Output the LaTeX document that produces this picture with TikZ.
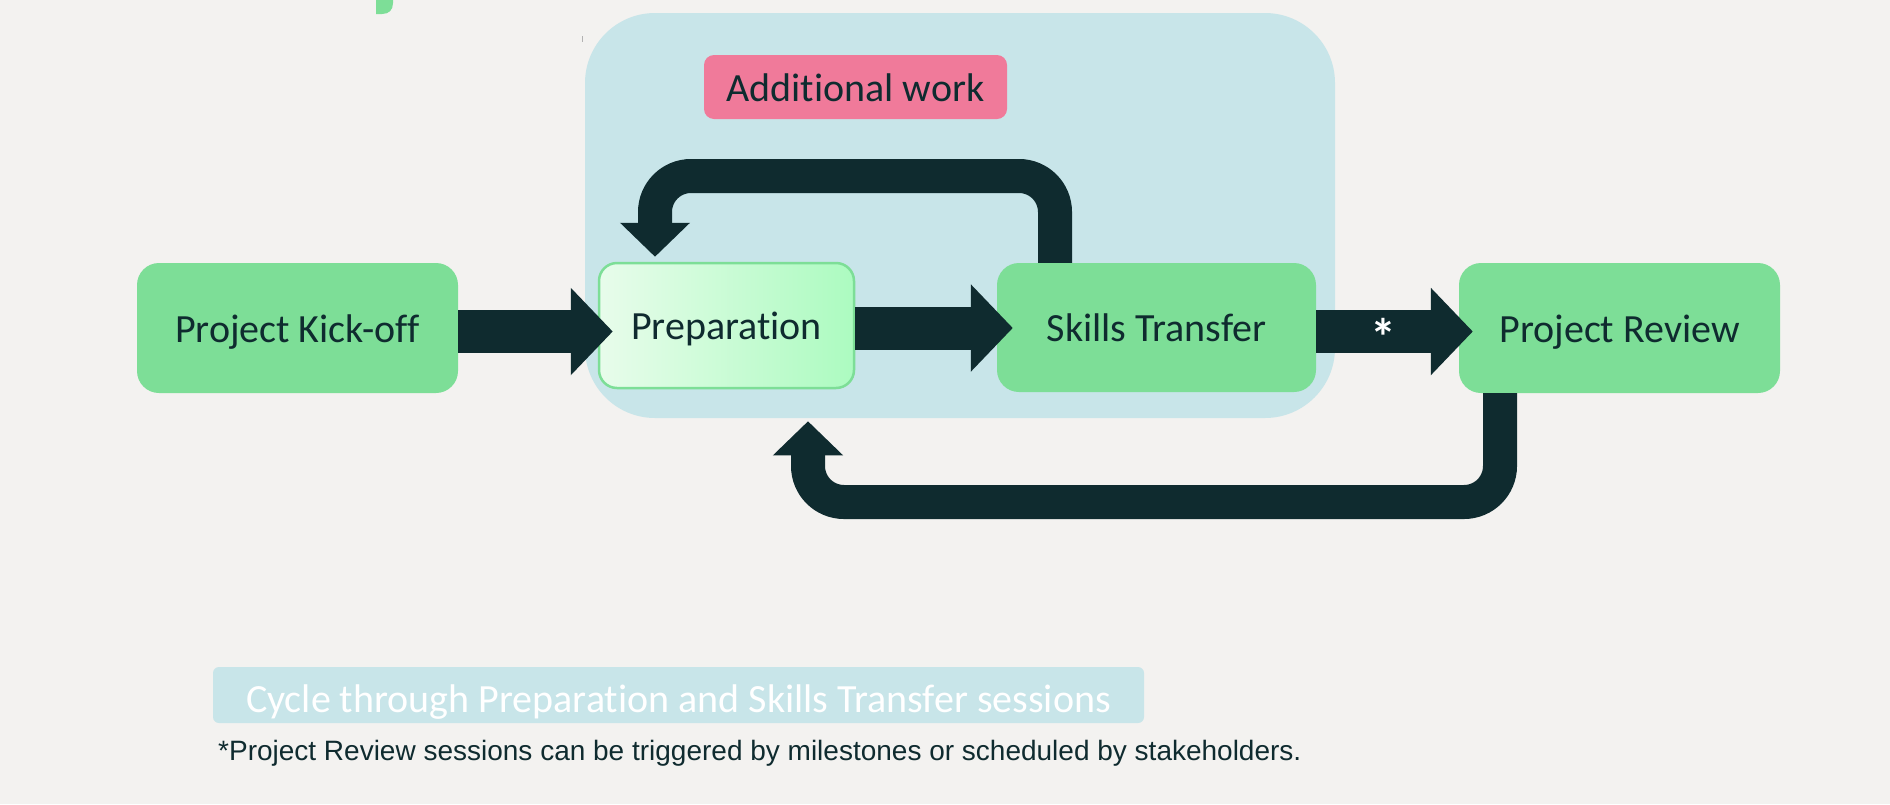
\documentclass[tikz,border=0pt]{standalone}
\usepackage{fontspec}
\setmainfont{Carlito}[Ligatures=NoCommon]
\newfontfamily\arialfont{Liberation Sans}
\usetikzlibrary{arrows.meta,calc}
\definecolor{bgcol}{HTML}{F3F2F0}
\definecolor{regioncol}{HTML}{C8E5E9}
\definecolor{boxgreen}{HTML}{7DDE97}
\definecolor{pinkbox}{HTML}{F07A9A}
\definecolor{darkarrow}{HTML}{0F2B2F}
\definecolor{preplight}{HTML}{E8FCEB}
\definecolor{prepdark}{HTML}{ACFBC0}
\begin{document}
\begin{tikzpicture}[x=1pt,y=-1pt,
  boxtext/.style={font=\fontsize{40}{46}\selectfont, text=darkarrow, text height=28pt, text depth=0pt, inner sep=0pt},
  stagebox/.style={boxtext, fill=boxgreen, rounded corners=22pt, minimum width=321pt, minimum height=130pt},
  blockarrow/.style={draw=darkarrow, line width=43pt, -{Triangle[length=42pt,width=85pt]}},
  looparrow/.style={draw=darkarrow, line width=34pt, rounded corners=36pt, -{Triangle[length=34pt,width=68pt]}},
]
\fill[bgcol] (0,0) rectangle (1890,804);
\useasboundingbox (0,0) rectangle (1890,804);
% fragments at top
\fill[boxgreen] (376,0) -- (393,0) -- (393,3) .. controls (393,10) and (389,14) .. (382,14) -- (376,14) -- cycle;
\draw[gray!60, line width=1pt] (582,36) -- (582,42);
% cycle region
\node[fill=regioncol, rounded corners=70pt, minimum width=750pt, minimum height=405pt, inner sep=0pt] (region) at (960,215.5) {};
\node[boxtext, fill=pinkbox, rounded corners=10pt, minimum width=303pt, minimum height=64pt] (addl) at (855.5,87) {Additional work};
% stages
\node[stagebox] (kick) at (297.5,328) {Project Kick-off};
\node[boxtext, left color=preplight, right color=prepdark, draw=boxgreen, line width=2.5pt, rounded corners=18pt, minimum width=255pt, minimum height=125pt] (prep) at (726.5,325.5) {Preparation};
\node[stagebox, minimum width=319pt, minimum height=129pt] (skills) at (1156.5,327.5) {Skills Transfer};
\node[stagebox] (review) at (1619.5,328) {Project Review};
% rows
\coordinate (rowA) at (0,331.5);
\coordinate (rowB) at (0,328);
\draw[blockarrow, shorten >=-15pt] (kick.east |- rowA) -- (prep.west |- rowA);
\draw[blockarrow, shorten >=-16pt] (prep.east |- rowB) -- (skills.west |- rowB);
\draw[blockarrow, shorten >=-14pt] (skills.east |- rowA) -- (review.west |- rowA);
\node[anchor=base, inner sep=0pt, text=white, font=\bfseries\fontsize{52}{60}\selectfont] (star) at (1383,355) {*};
% loops
\coordinate (t1) at (1055,176);
\coordinate (t2) at (655,176);
\draw[looparrow] (skills.north -| t1) -- (t1) -- (t2) -- ($(prep.north -| t2)+(0,-5)$);
\coordinate (b1) at (1500,502);
\coordinate (b2) at (808,502);
\draw[looparrow] (review.south -| b1) -- (b1) -- (b2) -- ($(prep.south -| b2)+(0,32)$);
% notes
\node[fill=regioncol, rounded corners=6pt, minimum width=931pt, minimum height=56pt, text=white, font=\fontsize{40}{48}\selectfont, text height=34pt, text depth=0pt, inner sep=0pt] (cyclenote) at (678.5,695) {Cycle through Preparation and Skills Transfer sessions};
\node[anchor=base west, inner sep=0pt, text=darkarrow, font=\arialfont\fontsize{28}{34}\selectfont] (foot) at (218,760) {*Project Review sessions can be triggered by milestones or scheduled by stakeholders.};
\end{tikzpicture}
\end{document}
